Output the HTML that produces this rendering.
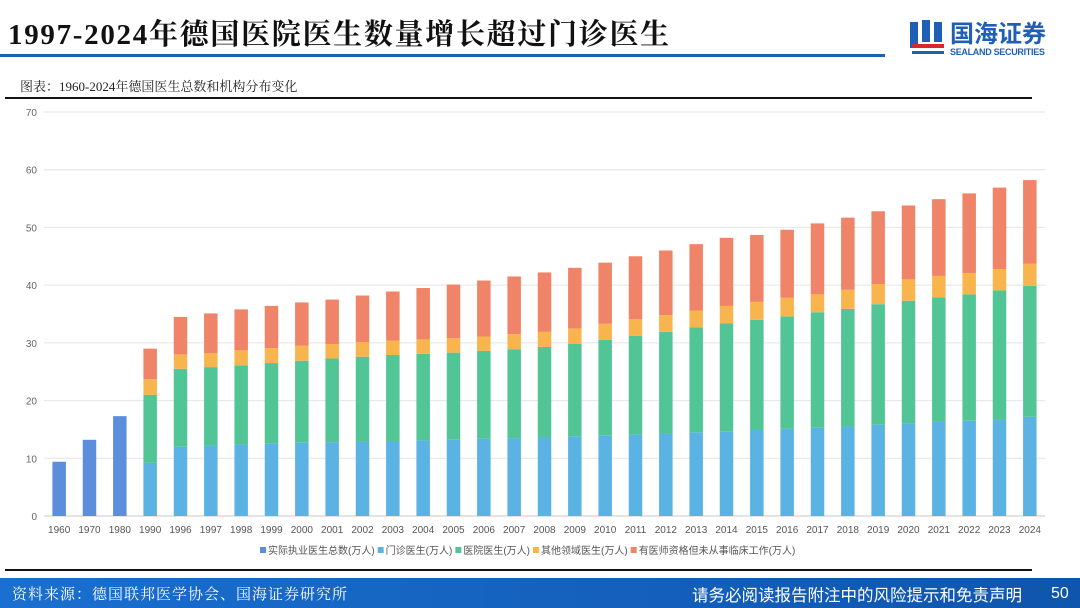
<!DOCTYPE html>
<html><head><meta charset="utf-8">
<style>
body{margin:0;width:1080px;height:608px;background:#fff;overflow:hidden;position:relative;font-family:"Liberation Sans","Noto Sans CJK SC",sans-serif}
.abs{position:absolute}
</style></head><body>
<div class="abs" style="left:8px;top:12px;font:bold 29px 'Liberation Serif','Noto Serif CJK SC',serif;color:#111;letter-spacing:1.7px;white-space:nowrap">1997-2024年德国医院医生数量增长超过门诊医生</div>
<div class="abs" style="left:0;top:54px;width:885px;height:3px;background:#1f5fb5"></div>
<div class="abs" style="left:908px;top:18px;width:160px;height:42px">
  <svg width="40" height="42" style="position:absolute;left:0;top:0"><rect x="2" y="4" width="8" height="26" fill="#1f5fb5"/><rect x="14" y="2" width="8" height="22" fill="#1f5fb5"/><rect x="26" y="4" width="8" height="20" fill="#1f5fb5"/><rect x="4" y="26" width="32" height="4" fill="#d8282f"/><rect x="4" y="33" width="32" height="3" fill="#1f5fb5"/></svg>
  <div class="abs" style="left:42px;top:0;font:bold 24px 'Noto Sans CJK SC',sans-serif;color:#1f5fb5;line-height:28px">国海证券</div>
  <div class="abs" style="left:42px;top:29px;font:bold 9px 'Liberation Sans',sans-serif;color:#1f5fb5;white-space:nowrap;letter-spacing:-0.3px">SEALAND SECURITIES</div>
</div>
<div class="abs" style="left:20px;top:76px;font:13px 'Liberation Serif','Noto Serif CJK SC',serif;color:#222">图表：1960-2024年德国医生总数和机构分布变化</div>
<div class="abs" style="left:5px;top:97px;width:1027px;height:2px;background:#111"></div>
<svg class="abs" style="left:0;top:100px" width="1080" height="470" id="chart"></svg>
<div class="abs" style="left:5px;top:569px;width:1027px;height:2px;background:#111"></div>
<div class="abs" style="left:0;top:578px;width:1080px;height:30px;background:linear-gradient(90deg,#1a6fd0,#0f55ad)"></div>
<div class="abs" style="left:12px;top:583px;font:15px 'Liberation Serif','Noto Serif CJK SC',serif;color:#fff;letter-spacing:1px;white-space:nowrap">资料来源：德国联邦医学协会、国海证券研究所</div>
<div class="abs" style="left:692px;top:582px;font:16.5px 'Noto Sans CJK SC',sans-serif;color:#fff;white-space:nowrap">请务必阅读报告附注中的风险提示和免责声明</div>
<div class="abs" style="left:1051px;top:585px;font:16px 'Liberation Sans',sans-serif;color:#fff">50</div>
<script>
const categories=["1960","1970","1980","1990","1996","1997","1998","1999","2000","2001","2002","2003","2004","2005","2006","2007","2008","2009","2010","2011","2012","2013","2014","2015","2016","2017","2018","2019","2020","2021","2022","2023","2024"];
const totalPracticing=[9.4,13.2,17.3,0,0,0,0,0,0,0,0,0,0,0,0,0,0,0,0,0,0,0,0,0,0,0,0,0,0,0,0,0,0];
const outpatient=[0,0,0,9.2,12.0,12.2,12.4,12.6,12.7,12.8,12.9,13.0,13.1,13.2,13.4,13.5,13.6,13.8,14.0,14.1,14.3,14.5,14.7,14.9,15.1,15.3,15.5,15.8,16.0,16.3,16.5,16.8,17.2];
const hospital=[0,0,0,11.8,13.5,13.6,13.7,13.9,14.2,14.5,14.7,14.9,15.0,15.1,15.2,15.4,15.7,16.0,16.5,17.1,17.6,18.2,18.7,19.1,19.5,20.0,20.4,20.9,21.3,21.6,21.9,22.3,22.7];
const otherFields=[0,0,0,2.7,2.5,2.4,2.6,2.6,2.6,2.5,2.5,2.5,2.5,2.5,2.5,2.6,2.6,2.7,2.8,2.9,2.9,2.9,3.0,3.1,3.2,3.1,3.3,3.5,3.7,3.7,3.7,3.7,3.8];
const inactive=[0,0,0,5.3,6.5,6.9,7.1,7.3,7.5,7.7,8.1,8.5,8.9,9.3,9.7,10.0,10.3,10.5,10.6,10.9,11.2,11.5,11.8,11.6,11.8,12.3,12.5,12.6,12.8,13.3,13.8,14.1,14.5];
const yTicks=[0,10,20,30,40,50,60,70];
const seriesNames=["实际执业医生总数(万人)","门诊医生(万人)","医院医生(万人)","其他领域医生(万人)","有医师资格但未从事临床工作(万人)"];
const seriesData=[totalPracticing,outpatient,hospital,otherFields,inactive];
const colors=["#5b8fdc","#5ab3e3","#52c596","#f8b54e","#ef8468"];
const NS="http://www.w3.org/2000/svg";
const svg=document.getElementById('chart');
const x0=44,x1=1045,y0=416,yMax=70,yTop=12;
const y=v=>y0-(v/yMax)*(y0-yTop);
const step=(x1-x0)/categories.length;
const xc=i=>x0+step*(i+0.5);
const bw=13.5;
function mk(t,a){const e=document.createElementNS(NS,t);for(const k in a)e.setAttribute(k,a[k]);svg.appendChild(e);return e;}
yTicks.forEach(t=>{
  const l=mk('line',{x1:x0,x2:x1,y1:y(t),y2:y(t),stroke:t===0?'#c8c8c8':'#e4e4e4','stroke-width':1});
  
  
  const tx=mk('text',{x:37,y:y(t)+4,'text-anchor':'end','font-size':10,fill:'#666','font-family':'Liberation Sans'});
  tx.textContent=t;
  
  
});
categories.forEach((c,i)=>{
  let acc=0;
  seriesData.forEach((s,k)=>{
    const v=s[i];if(!v)return;
    const r=mk('rect',{x:xc(i)-bw/2,y:y(acc+v),width:bw,height:y(acc)-y(acc+v),fill:colors[k]});
    
    
    acc+=v;
  });
  const tx=mk('text',{x:xc(i),y:y0+17,'text-anchor':'middle','font-size':10,fill:'#555','font-family':'Liberation Sans'});
  tx.textContent=c;
  
  
});
let lx=260;
seriesNames.forEach((n,k)=>{
  const r=mk('rect',{x:lx,y:447,width:6,height:6,fill:colors[k]});
  
  
  const t=mk('text',{x:lx+8,y:454,'font-size':10,fill:'#555','font-family':'Liberation Sans, Noto Sans CJK SC, sans-serif'});
  t.textContent=n;
  
  
  lx+=8+t.getComputedTextLength()+3;
});
</script>
</body></html>
